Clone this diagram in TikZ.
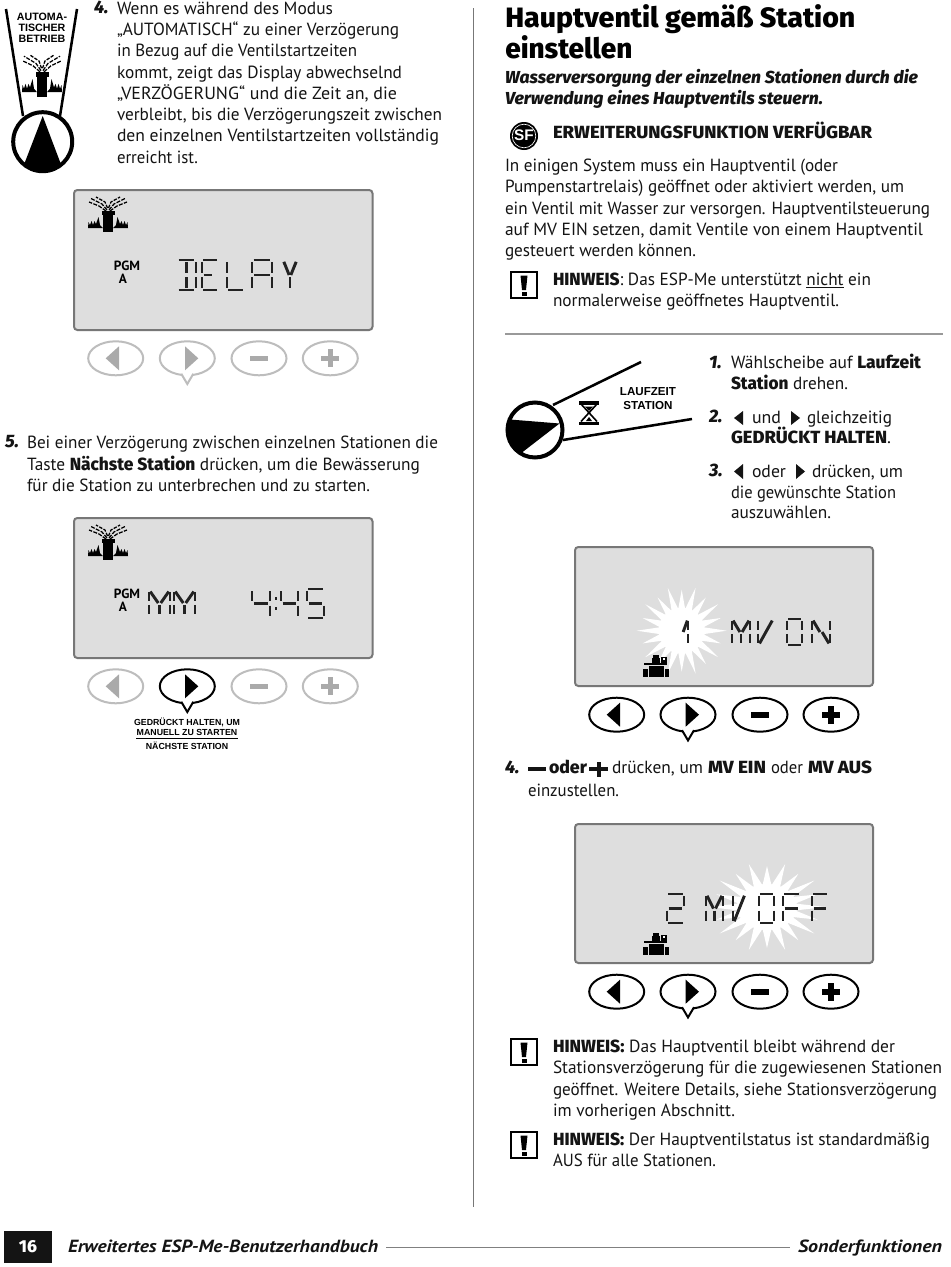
\documentclass[tikz,border=0pt]{standalone}
\usepackage{graphicx}
\usepackage{fontspec}
\setmainfont{PT Sans}
\newfontfamily\hv{Fira Sans ExtraBold}
\newfontfamily\ar{Liberation Sans}
\newlength\pxu \setlength\pxu{0.75pt}
\definecolor{ink}{HTML}{141414}
\definecolor{lcdbg}{HTML}{DEDEDE}
\definecolor{lcdedge}{HTML}{777777}
\definecolor{glight}{HTML}{BDBDBD}
\definecolor{gmid}{HTML}{AAAAAA}
\definecolor{seglcd}{HTML}{222222}
\tikzset{
 txt/.style={anchor=base west,inner sep=0pt,outer sep=0pt,text=ink,font=\fontsize{13.2pt}{15pt}\selectfont},
 num/.style={anchor=base west,inner sep=0pt,outer sep=0pt,text=ink,font=\fontsize{13.5pt}{14pt}\hv\itshape},
 lab/.style={anchor=base,inner sep=0pt,outer sep=0pt,text=black},
 panel/.style={draw=lcdedge,fill=lcdbg,line width=1.5pt,rounded corners=2.5pt},
 segline/.style={draw=seglcd,line width=2.2pt,line cap=butt},
 rulegray/.style={draw=lcdedge,line width=1.4pt}
}
\newcommand\B[1]{{\hv #1}}
\newcommand\tl[5]{\node[txt] (#1) at (#2,#3) {\resizebox{#4\pxu}{\height}{#5}};}
\newcommand\nm[4]{\node[num] (#1) at (#2,#3) {#4};}
% seven-segment glyphs
\expandafter\def\csname sg@a\endcsname{\draw[segline] (0.08,0)--(0.92,0);}
\expandafter\def\csname sg@d\endcsname{\draw[segline] (0.08,1)--(0.92,1);}
\expandafter\def\csname sg@g\endcsname{\draw[segline] (0.1,.5)--(.9,.5);}
\expandafter\def\csname sg@q\endcsname{\draw[segline] (0.1,.5)--(.6,.5);}
\expandafter\def\csname sg@f\endcsname{\draw[segline] (0,.07)--(0,.43);}
\expandafter\def\csname sg@e\endcsname{\draw[segline] (0,.57)--(0,.93);}
\expandafter\def\csname sg@b\endcsname{\draw[segline] (1,.07)--(1,.43);}
\expandafter\def\csname sg@c\endcsname{\draw[segline] (1,.57)--(1,.93);}
\expandafter\def\csname sg@h\endcsname{\draw[segline] (.5,.07)--(.5,.43);}
\expandafter\def\csname sg@i\endcsname{\draw[segline] (.5,.57)--(.5,.93);}
\expandafter\def\csname sg@j\endcsname{\draw[segline] (.06,.06)--(.44,.5);}
\expandafter\def\csname sg@k\endcsname{\draw[segline] (.94,.06)--(.56,.5);}
\expandafter\def\csname sg@l\endcsname{\draw[segline] (.44,.56)--(.08,.94);}
\expandafter\def\csname sg@m\endcsname{\draw[segline] (.56,.5)--(.94,.94);}
\expandafter\def\csname sg@v\endcsname{\draw[segline] (.1,.94)--(.95,.06);}
\newcommand\sg[5]{\begin{scope}[shift={(#1,#2)},x=#3\pxu,y=-#4\pxu]\foreach \s in {#5}{\csname sg@\s\endcsname}\end{scope}}
% sprinkler
\newcommand\spk[4]{\begin{scope}[shift={(#1,#2)},xscale=#3,yscale=#4]
 \fill[black] (-5,15) rectangle (5,35);
 \fill[black] (-6.5,14) rectangle (6.5,18);
 \foreach \m in {-1,1}{
  \begin{scope}[xscale=\m]
  \draw[black,line width=.95pt,dash pattern=on 3pt off 1pt] (1,13) -- (6,7) -- (18,1);
  \draw[black,line width=.95pt,dash pattern=on 3pt off 1pt] (2,14) -- (9,9) -- (19,5);
  \draw[black,line width=.95pt,dash pattern=on 2.6pt off 1pt] (0.5,11) -- (3,5) -- (12,0);
  \fill[black] (-5,31)--(-20,31)--(-19.5,25)--(-18,28)--(-16.5,24)--(-15,28)--(-13.5,24)--(-12,27)--(-9.5,20)--(-8,28)--cycle;
  \end{scope}}
\end{scope}}
% buttons
\newcommand\bL[4]{\begin{scope}[shift={(#1,#2)}]\draw[#3,line width=1.5pt] (0,0) ellipse (27.5 and 17);\fill[#4] (-10,0)--(3.3,-12)--(3.3,12)--cycle;\end{scope}}
\newcommand\bR[4]{\begin{scope}[shift={(#1,#2)}]\draw[#3,line width=1.5pt] (0,0) ellipse (27.5 and 17);\draw[#3,line width=1.5pt,fill=white] (-6,15.5)--(0,25.7)--(6,15.5);\fill[#4] (-2.3,-12)--(11,0)--(-2.3,12)--cycle;\end{scope}}
\newcommand\bM[4]{\begin{scope}[shift={(#1,#2)}]\draw[#3,line width=1.5pt] (0,0) ellipse (27.5 and 17);\fill[#4] (-9,-2.8)rectangle(9,2.8);\end{scope}}
\newcommand\bP[4]{\begin{scope}[shift={(#1,#2)}]\draw[#3,line width=1.5pt] (0,0) ellipse (27.5 and 17);\fill[#4] (-9,-2.8)rectangle(9,2.8);\fill[#4] (-2.8,-9)rectangle(2.8,9);\end{scope}}
\newcommand\hw[2]{\begin{scope}[shift={(#1,#2)}]\draw[black,line width=1.6pt] (0,0) rectangle (26,26);\fill[black] (9.5,3.5)--(16.5,3.5)--(15,18)--(11,18)--cycle;\fill[black] (10.5,19.5) rectangle (15.5,23.5);\end{scope}}
\newcommand\valve[2]{\begin{scope}[shift={(#1,#2)}]\fill[black] (5.7,11) rectangle (20.7,22.3);\fill[black] (0,14) rectangle (4.9,22.3);\fill[black] (21.5,14) rectangle (25.7,22.3);\fill[black] (1.3,7.7) rectangle (24,10.4);\fill[black] (8.5,3.3) rectangle (17.3,7.7);\fill[black] (10.2,0) rectangle (16.2,3.3);\fill[black] (17.5,1.7) rectangle (24,7.7);\fill[white] (19.5,3) rectangle (22,4.5);\end{scope}}
\newcommand\burst[4]{\begin{scope}[shift={(#1,#2)},xscale=#3,yscale=#4]\fill[white] (0:45) \foreach \a in {0,36,...,324}{ -- (\a+9:22) -- (\a+18:41) -- (\a+27:22) -- (\a+36:45)} -- cycle;\fill[white] (0,0) circle (23);\end{scope}}
\begin{document}
\begin{tikzpicture}[x=.75pt,y=-.75pt]
\useasboundingbox (0,0) rectangle (950,1267);
\fill[white] (0,0) rectangle (950,1267);
% dial left
\draw[black,line width=1.9pt] (6,9)--(23,116);
\draw[black,line width=1.9pt] (77,9)--(60,116);
\begin{scope}
\clip (42.7,141.7) circle (30);
\fill[black] (42.7,116)--(20,175)--(65,175)--cycle;
\end{scope}
\draw[black,line width=3pt] (42.7,141.7) circle (29.5);
\node[lab,font=\fontsize{8pt}{9pt}\ar\bfseries] (auto1) at (42,20.5) {AUTOMA-};
\node[lab,font=\fontsize{8pt}{9pt}\ar\bfseries] (auto2) at (42,31.5) {TISCHER};
\node[lab,font=\fontsize{8pt}{9pt}\ar\bfseries] (auto3) at (42,42) {BETRIEB};
\spk{42}{55}{1}{1.2}
% left text
\nm{n4}{94}{13}{4.}
\tl{a1}{117}{14}{216}{Wenn es während des Modus}
\tl{a2}{117}{35}{282}{„AUTOMATISCH“ zu einer Verzögerung}
\tl{a3}{117}{56}{240}{in Bezug auf die Ventilstartzeiten}
\tl{a4}{117}{78}{285}{kommt, zeigt das Display abwechselnd}
\tl{a5}{117}{99}{280}{„VERZÖGERUNG“ und die Zeit an, die}
\tl{a6}{117}{120}{325}{verbleibt, bis die Verzögerungszeit zwischen}
\tl{a7}{117}{141}{322}{den einzelnen Ventilstartzeiten vollständig}
\tl{a8}{117}{163}{81}{erreicht ist.}
% panel 1
\draw[panel] (74,190) rectangle (372.5,330);
\spk{108}{197}{1}{1}
\node[lab,font=\fontsize{10pt}{10pt}\selectfont\bfseries] (pgm1) at (127,270.5) {PGM};
\node[lab,font=\fontsize{10pt}{10pt}\selectfont\bfseries] (pga1) at (123,283) {A};
\sg{177}{260}{19}{30}{a,d,h,i,b,c}
\sg{202}{260}{16}{30}{a,d,f,e,q}
\sg{227}{260}{17}{30}{d,f,e}
\sg{252}{260}{20}{30}{a,f,e,b,c,g}
\sg{283}{260}{14}{30}{j,k,i}
\bL{115.7}{358.3}{glight}{gmid}
\bR{187.3}{358.3}{glight}{gmid}
\bM{259}{358.3}{glight}{gmid}
\bP{330.3}{358.3}{glight}{gmid}
% step 5
\nm{n5}{5}{447}{5.}
\tl{b1}{27}{448}{411}{Bei einer Verzögerung zwischen einzelnen Stationen die}
\tl{b2}{27}{470}{393}{Taste \B{Nächste Station} drücken, um die Bewässerung}
\tl{b3}{27}{491}{343}{für die Station zu unterbrechen und zu starten.}
% panel 2
\draw[panel] (74,518) rectangle (372.5,658);
\spk{108}{525}{1}{1}
\node[lab,font=\fontsize{10pt}{10pt}\selectfont\bfseries] (pgm2) at (127,598.5) {PGM};
\node[lab,font=\fontsize{10pt}{10pt}\selectfont\bfseries] (pga2) at (123,611) {A};
\sg{149}{590}{21}{26}{f,e,b,c,j,k,i}
\sg{174}{590}{21}{26}{f,e,b,c,j,k,i}
\sg{252}{589}{18}{29}{f,g,b,c}
\sg{281}{589}{17}{29}{f,g,b,c}
\sg{307}{589}{17}{29}{a,f,g,c,d}
\fill[seglcd] (274.5,597) rectangle (277,599.5);
\fill[seglcd] (274.5,607) rectangle (277,609.5);
\bL{115.7}{686.3}{glight}{gmid}
\bR{187.3}{686.3}{black}{black}
\bM{259}{686.3}{glight}{gmid}
\bP{330.3}{686.3}{glight}{gmid}
\node[lab,font=\fontsize{6.6pt}{7pt}\ar\bfseries] (c1) at (187,725.5) {GEDRÜCKT HALTEN, UM};
\node[lab,font=\fontsize{6.6pt}{7pt}\ar\bfseries] (c2) at (187,735) {MANUELL ZU STARTEN};
\coordinate (cl) at (136,738.5); \coordinate (cr) at (238,738.5);
\draw[black,line width=.75pt] (cl)--(cr);
\node[lab,font=\fontsize{6.6pt}{7pt}\ar\bfseries] (c3) at (187,749) {NÄCHSTE STATION};
% vertical rule
\coordinate (vt) at (473.5,8); \coordinate (vb) at (473.5,1207);
\draw[rulegray] (vt)--(vb);
% right heading
\node[anchor=base west,inner sep=0pt,font=\fontsize{21pt}{24pt}\hv] (h1) at (505,27) {\resizebox{350\pxu}{\height}{Hauptventil gemäß Station}};
\node[anchor=base west,inner sep=0pt,font=\fontsize{21pt}{24pt}\hv] (h2) at (505,59) {\resizebox{127\pxu}{\height}{einstellen}};
\node[txt,font=\fontsize{13pt}{15pt}\hv\itshape] (s1) at (505,83) {\resizebox{413\pxu}{\height}{Wasserversorgung der einzelnen Stationen durch die}};
\node[txt,font=\fontsize{13pt}{15pt}\hv\itshape] (s2) at (505,104) {\resizebox{318\pxu}{\height}{Verwendung eines Hauptventils steuern.}};
% SF
\fill[black] (524,136) circle (14);
\draw[white,line width=.5pt] (524,136) circle (11.8);
\node[lab,text=white,font=\fontsize{11.5pt}{10pt}\ar\bfseries] (sf) at (524,140.5) {SF};
\tl{e1}{553}{138}{319}{\B{ERWEITERUNGSFUNKTION VERFÜGBAR}}
\tl{p1}{505}{171}{333}{In einigen System muss ein Hauptventil (oder}
\tl{p2}{505}{192}{399}{Pumpenstartrelais) geöffnet oder aktiviert werden, um}
\tl{p3}{505}{214}{425}{ein Ventil mit Wasser zur versorgen. Hauptventilsteuerung}
\tl{p4}{505}{235}{418}{auf MV EIN setzen, damit Ventile von einem Hauptventil}
\tl{p5}{505}{256}{191}{gesteuert werden können.}
\hw{511}{272}
\tl{h3}{553}{285}{318}{\B{HINWEIS}: Das ESP-Me unterstützt \underline{nicht} ein}
\tl{h4}{553}{306}{286}{normalerweise geöffnetes Hauptventil.}
\coordinate (rl) at (505,334); \coordinate (rr) at (943,334);
\draw[draw=gray!80,line width=1.1pt] (rl)--(rr);
% dial right
\coordinate (u1) at (553,405); \coordinate (u2) at (641,362);
\coordinate (l1) at (563,440); \coordinate (l2) at (692,419);
\draw[black,line width=1.9pt] (u1)--(u2);
\draw[black,line width=1.9pt] (l1)--(l2);
\begin{scope}
\clip (535,430) circle (28);
\fill[black] (559.5,423.5)--(510,419.5)--(500,430)--(505,450)--(522,452.5)--cycle;
\end{scope}
\draw[black,line width=3pt] (535,430) circle (27.5);
\fill[black] (579,401) rectangle (599,404.5);
\fill[black] (579,421.5) rectangle (599,425);
\draw[black,line width=1.2pt] (581,404)--(597,421.5);
\draw[black,line width=1.2pt] (597,404)--(581,421.5);
\fill[black] (585,406.5)--(593,406.5)--(589,411)--cycle;
\fill[black] (589,417)--(592,421)--(586,421)--cycle;
\node[lab,font=\fontsize{8.7pt}{9pt}\ar\bfseries] (lz1) at (648,395) {LAUFZEIT};
\node[lab,font=\fontsize{8.7pt}{9pt}\ar\bfseries] (lz2) at (648,409) {STATION};
\nm{n1}{709}{368}{1.}
\tl{t1}{731}{368}{190}{Wählscheibe auf \B{Laufzeit}}
\tl{t2}{731}{389}{117}{\B{Station} drehen.}
\nm{n2}{709}{422}{2.}
\fill[ink] (734,418)--(743,411)--(743,425)--cycle;
\tl{t3a}{752}{423}{29}{und}
\fill[ink] (791,411)--(800,418)--(791,425)--cycle;
\tl{t3b}{807}{423}{85}{gleichzeitig}
\tl{t4}{731}{443}{160}{\B{GEDRÜCKT HALTEN}.}
\nm{n3}{709}{476}{3.}
\fill[ink] (734,471.5)--(743,464)--(743,479)--cycle;
\tl{t5a}{752}{477}{34}{oder}
\fill[ink] (796,464)--(805,471.5)--(796,479)--cycle;
\tl{t5b}{812}{477}{91}{drücken, um}
\tl{t6}{731}{498}{165}{die gewünschte Station}
\tl{t7}{731}{518}{100}{auszuwählen.}
% panel 3
\draw[panel] (575,547) rectangle (873,686);
\burst{681.7}{630.7}{1}{1}
\sg{677}{619}{11}{26}{k,b,c}
\sg{732}{619}{18}{26}{f,e,b,c,j,k,i}
\sg{758}{619}{15}{26}{f,e,v}
\sg{787}{619}{15}{26}{a,b,c,d,e,f}
\sg{812}{619}{18}{26}{f,e,b,c,j,m}
\valve{643}{655}
\bL{616.7}{714.7}{black}{black}
\bR{688}{714.7}{black}{black}
\bM{760}{714.7}{black}{black}
\bP{831}{714.7}{black}{black}
% step 4
\nm{n6}{505}{773}{4.}
\fill[ink] (528,767) rectangle (546,770.5);
\tl{u1t}{549}{773}{38}{\B{oder}}
\fill[ink] (589,767) rectangle (608,771);
\fill[ink] (596.5,761.5) rectangle (600.5,777);
\tl{u2t}{612}{773}{91}{drücken, um}
\tl{u3t}{708}{773}{58}{\B{MV EIN}}
\tl{u4t}{771}{773}{32}{oder}
\tl{u5t}{808}{773}{64}{\B{MV AUS}}
\tl{u6t}{528}{796}{91}{einzustellen.}
% panel 4
\draw[panel] (575,824) rectangle (873,963);
\burst{767}{907}{1.3}{1}
\sg{667}{894}{17}{29}{a,b,g,e,d}
\sg{706}{894}{17}{29}{f,e,b,c,j,k,i}
\sg{733}{894}{12}{29}{f,e,v}
\sg{759}{894}{15}{29}{a,b,c,d,e,f}
\sg{783}{894}{17}{29}{a,f,e,g}
\sg{812}{894}{16}{29}{a,f,e,g}
\valve{643}{933}
\bL{616.7}{991.7}{black}{black}
\bR{688}{991.7}{black}{black}
\bM{760}{991.7}{black}{black}
\bP{831}{991.7}{black}{black}
% notes
\hw{511}{1039}
\tl{v1}{553}{1052}{342}{\B{HINWEIS:} Das Hauptventil bleibt während der}
\tl{v2}{553}{1073}{389}{Stationsverzögerung für die zugewiesenen Stationen}
\tl{v3}{553}{1095}{384}{geöffnet. Weitere Details, siehe Stationsverzögerung}
\tl{v4}{553}{1116}{182}{im vorherigen Abschnitt.}
\hw{511}{1132}
\tl{w1}{553}{1145}{377}{\B{HINWEIS:} Der Hauptventilstatus ist standardmäßig}
\tl{w2}{553}{1166}{163}{AUS für alle Stationen.}
% footer
\fill[ink] (4,1231) rectangle (52,1263);
\node[lab,text=white,font=\fontsize{13pt}{14pt}\hv] (pg) at (28,1252) {16};
\node[txt,font=\fontsize{13.2pt}{15pt}\bfseries\itshape] (f1) at (68,1252) {\resizebox{310\pxu}{\height}{Erweitertes ESP-Me-Benutzerhandbuch}};
\coordinate (fl) at (386,1247.5); \coordinate (fr) at (790,1247.5);
\draw[draw=gray,line width=.9pt] (fl)--(fr);
\node[txt,font=\fontsize{13.2pt}{15pt}\bfseries\itshape] (f2) at (798,1252) {\resizebox{144\pxu}{\height}{Sonderfunktionen}};
\end{tikzpicture}
\end{document}
